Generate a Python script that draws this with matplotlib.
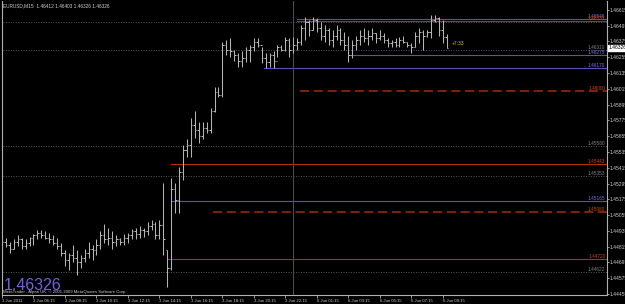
import matplotlib
matplotlib.use("Agg")
import matplotlib.pyplot as plt
from matplotlib.transforms import blended_transform_factory

# header / texts
header_text = "EURUSD,M15  1.46412 1.46403 1.46326 1.46326"
big_price = "1.46326"
copyright_text = "MetaTrader - Alpari UK, \u00a9 2001-2009 MetaQuotes Software Corp."
timer_text = "+7:33"

# time axis labels (every 8 bars)
time_labels = ["3 Jun 2011", "3 Jun 06:15", "3 Jun 08:15", "3 Jun 10:15", "3 Jun 12:15",
               "3 Jun 14:15", "3 Jun 16:15", "3 Jun 18:15", "3 Jun 20:15", "3 Jun 22:15",
               "6 Jun 01:15", "6 Jun 03:15", "6 Jun 05:15", "6 Jun 07:15", "6 Jun 09:15"]
time_label_bars = [0, 8, 16, 24, 32, 40, 48, 56, 64, 72, 80, 88, 96, 104, 112]

price_ticks = [1.46615, 1.46495, 1.46375, 1.46255, 1.46135, 1.46015, 1.45895, 1.45775,
               1.45655, 1.45535, 1.45415, 1.45295, 1.45175, 1.45055, 1.44935, 1.44815,
               1.44695, 1.44575, 1.44455]

# M15 bars
bar_high = [1.4487, 1.4488, 1.4485, 1.4487, 1.4490, 1.4488, 1.4487, 1.4489, 1.4491, 1.4494,
            1.4494, 1.4493, 1.4492, 1.4490, 1.4488, 1.4484, 1.4479, 1.4477, 1.4483, 1.4479,
            1.4475, 1.4480, 1.4485, 1.4483, 1.4487, 1.4493, 1.4499, 1.4496, 1.4493, 1.4490,
            1.4488, 1.4491, 1.4492, 1.4495, 1.4496, 1.4497, 1.4496, 1.4500, 1.4502, 1.4500,
            1.4502, 1.4530, 1.4479, 1.4534, 1.4530, 1.4542, 1.4559, 1.4563, 1.4579, 1.4585,
            1.4576, 1.4576, 1.4576, 1.4587, 1.4603, 1.4603, 1.4637, 1.4639, 1.4640, 1.4631,
            1.4629, 1.4630, 1.4633, 1.4635, 1.4640, 1.4640, 1.4633, 1.4629, 1.4629, 1.4630,
            1.4635, 1.4635, 1.4641, 1.4640, 1.4641, 1.4640, 1.4650, 1.4656, 1.4654, 1.4656,
            1.4655, 1.4652, 1.4650, 1.4648, 1.4646, 1.4650, 1.4648, 1.4645, 1.4642, 1.4639,
            1.4642, 1.4646, 1.4648, 1.4646, 1.4648, 1.4644, 1.4646, 1.4644, 1.4640, 1.4639,
            1.4640, 1.4641, 1.4642, 1.4637, 1.4636, 1.4645, 1.4648, 1.4646, 1.4646, 1.4658,
            1.4658, 1.4656, 1.4654, 1.4643]
bar_low = [1.4479, 1.4481, 1.4477, 1.4480, 1.4482, 1.4480, 1.4480, 1.4482, 1.4483, 1.4487,
           1.4488, 1.4487, 1.4484, 1.4483, 1.4480, 1.4474, 1.4467, 1.4464, 1.4470, 1.4460,
           1.4465, 1.4470, 1.4473, 1.4471, 1.4475, 1.4480, 1.4484, 1.4483, 1.4480, 1.4482,
           1.4483, 1.4483, 1.4484, 1.4487, 1.4487, 1.4488, 1.4489, 1.4490, 1.4494, 1.4487,
           1.4487, 1.4475, 1.4451, 1.4464, 1.4507, 1.4507, 1.4532, 1.4550, 1.4550, 1.4564,
           1.4560, 1.4563, 1.4568, 1.4568, 1.4584, 1.4595, 1.4595, 1.4627, 1.4626, 1.4623,
           1.4618, 1.4618, 1.4622, 1.4622, 1.4630, 1.4633, 1.4621, 1.4617, 1.4618, 1.4617,
           1.4626, 1.4630, 1.4630, 1.4626, 1.4629, 1.4631, 1.4635, 1.4639, 1.4642, 1.4646,
           1.4645, 1.4639, 1.4637, 1.4635, 1.4633, 1.4639, 1.4635, 1.4631, 1.4622, 1.4625,
           1.4631, 1.4635, 1.4637, 1.4635, 1.4639, 1.4636, 1.4639, 1.4636, 1.4633, 1.4633,
           1.4633, 1.4633, 1.4636, 1.4633, 1.4629, 1.4633, 1.4636, 1.4631, 1.4641, 1.4640,
           1.4652, 1.4642, 1.4636, 1.46326]
bar_open = [1.4483, 1.4485, 1.4483, 1.4480, 1.4485, 1.4487, 1.4482, 1.4484, 1.4488, 1.4490,
            1.4492, 1.4490, 1.4488, 1.4487, 1.4484, 1.4482, 1.4477, 1.4471, 1.4475, 1.4473,
            1.4470, 1.4473, 1.4477, 1.4480, 1.4479, 1.4483, 1.4490, 1.4487, 1.4488, 1.4485,
            1.4487, 1.4485, 1.4488, 1.4490, 1.4493, 1.4491, 1.4494, 1.4493, 1.4497, 1.4499,
            1.4490, 1.4498, 1.4479, 1.4465, 1.4525, 1.4517, 1.4538, 1.4555, 1.4559, 1.4574,
            1.4570, 1.4566, 1.4572, 1.4570, 1.4585, 1.4599, 1.4597, 1.4635, 1.4631, 1.4630,
            1.4627, 1.4623, 1.4625, 1.4631, 1.4633, 1.4637, 1.4635, 1.4625, 1.4622, 1.4627,
            1.4623, 1.4633, 1.4631, 1.4639, 1.4631, 1.4635, 1.4637, 1.4648, 1.4652, 1.4646,
            1.4654, 1.4648, 1.4642, 1.4646, 1.4639, 1.4642, 1.4646, 1.4639, 1.4635, 1.4627,
            1.4635, 1.4639, 1.4642, 1.4640, 1.4642, 1.4644, 1.4640, 1.4642, 1.4639, 1.4636,
            1.4637, 1.4635, 1.4639, 1.4637, 1.4635, 1.4633, 1.4642, 1.4645, 1.4642, 1.4645,
            1.4654, 1.4655, 1.4646, 1.46412]
bar_close = [1.4485, 1.4483, 1.4480, 1.4485, 1.4487, 1.4482, 1.4484, 1.4488, 1.4490, 1.4492,
             1.4490, 1.4488, 1.4487, 1.4484, 1.4482, 1.4477, 1.4471, 1.4475, 1.4473, 1.4470,
             1.4473, 1.4477, 1.4480, 1.4479, 1.4483, 1.4490, 1.4487, 1.4488, 1.4485, 1.4487,
             1.4485, 1.4488, 1.4490, 1.4493, 1.4491, 1.4494, 1.4493, 1.4497, 1.4499, 1.4490,
             1.4498, 1.4487, 1.4465, 1.4525, 1.4517, 1.4538, 1.4555, 1.4559, 1.4574, 1.4570,
             1.4566, 1.4572, 1.4570, 1.4585, 1.4599, 1.4597, 1.4635, 1.4631, 1.4630, 1.4627,
             1.4623, 1.4625, 1.4631, 1.4633, 1.4637, 1.4635, 1.4625, 1.4622, 1.4627, 1.4623,
             1.4633, 1.4631, 1.4639, 1.4631, 1.4635, 1.4637, 1.4648, 1.4652, 1.4646, 1.4654,
             1.4648, 1.4642, 1.4646, 1.4639, 1.4642, 1.4646, 1.4639, 1.4635, 1.4627, 1.4635,
             1.4639, 1.4642, 1.4640, 1.4642, 1.4644, 1.4640, 1.4642, 1.4639, 1.4636, 1.4637,
             1.4635, 1.4639, 1.4637, 1.4635, 1.4633, 1.4642, 1.4645, 1.4642, 1.4645, 1.4654,
             1.4655, 1.4646, 1.4641, 1.46326]

# horizontal line objects: price, first bar, colour, style, label (None = no label)
level_price = [1.46546, 1.46531, 1.46526, 1.46310, 1.46273, 1.46174, 1.46000, 1.45580,
               1.45443, 1.45352, 1.45161, 1.45078, 1.44720, 1.44621]
level_start = [75, 75, -1, -1, 88.5, 66.6, 75.8, -1, 43, -1, 43, 53.7, 42, -1]
level_kind = ["blue", "red", "dot", "dot", "blue", "blue", "dash", "dot",
              "red", "dot", "blue", "dash", "red", "dot"]
level_label = ["1.46546", "1.46531", None, "1.46310", "1.46275", "1.46170", "1.46000",
               "1.45580", "1.45443", "1.45353", "1.45165", "1.45080", "1.44720", "1.44622"]

separator_bar = 73.9

styles = {
    "red": dict(color="#b83000", ls="-", lw=0.8),
    "blue": dict(color="#5a50b8", ls="-", lw=0.8),
    "dash": dict(color="#a02c08", ls=(0, (6, 3)), lw=1.1),
    "dot": dict(color="#606060", ls=(0, (1.2, 1.8)), lw=0.6),
}
label_colors = {"red": "#d04010", "blue": "#7a70e0", "dash": "#d04010", "dot": "#808080"}

W, H = 625, 304
fig = plt.figure(figsize=(W / 100, H / 100), dpi=100, facecolor="black")
ax = fig.add_axes([2 / W, (H - 295) / H, (606.5 - 2) / W, 294 / H])
ax.set_facecolor("black")

x_left, x_right = 0.13, 153.6
ax.set_xlim(x_left, x_right)
ax.set_ylim(1.44447, 1.46683)

# level lines
for p, s, k, lab in zip(level_price, level_start, level_kind, level_label):
    start = x_left if s < 0 else s
    ax.plot([start, x_right], [p, p], zorder=1, **styles[k])
    if lab:
        ax.text(x_right - 0.3, p, lab, color=label_colors[k], fontsize=3.4,
                family="Liberation Sans", ha="right", va="bottom", zorder=3)

ax.axvline(separator_bar, color="#505050", lw=0.7, zorder=1)

# OHLC bars
idx = list(range(len(bar_high)))
bar_col = "#b4b4b4"
ax.vlines(idx, bar_low, bar_high, colors=bar_col, lw=0.75, zorder=2)
ax.hlines(bar_open, [i - 0.38 for i in idx], idx, colors=bar_col, lw=0.75, zorder=2)
ax.hlines(bar_close, idx, [i + 0.38 for i in idx], colors=bar_col, lw=0.75, zorder=2)

# timer text next to last bar
ax.text(114.3, 1.46356, timer_text, color="#c8c800", fontsize=3.6,
        family="Liberation Sans", ha="left", va="center")

# axes look
ax.spines["top"].set_visible(False)
for side in ["left", "right", "bottom"]:
    ax.spines[side].set_color("#b0b0b0")
    ax.spines[side].set_linewidth(0.8)

ax.yaxis.tick_right()
ax.set_yticks(price_ticks)
ax.set_yticklabels(["%.5f" % v for v in price_ticks])
ax.tick_params(axis="y", colors="#b0b0b0", labelcolor="#c8c8c8", labelsize=3.6,
               length=1.5, width=0.6, pad=1)
ax.set_xticks(time_label_bars)
ax.set_xticklabels(time_labels, ha="left")
ax.tick_params(axis="x", colors="#b0b0b0", labelcolor="#c8c8c8", labelsize=3.1,
               length=2, width=0.6, pad=0.6)
for t in ax.get_xticklabels() + ax.get_yticklabels():
    t.set_family("Liberation Sans")

# current price marker on the price scale
tr = blended_transform_factory(ax.transAxes, ax.transData)
ax.text(1.003, 1.46326, big_price, transform=tr, fontsize=3.6, family="Liberation Sans",
        color="black", ha="left", va="center",
        bbox=dict(boxstyle="square,pad=0.15", fc="white", ec="white"), clip_on=False)

# texts on the chart
fig.text(3 / W, 1 - 6 / H, header_text, color="#d0d0d0", fontsize=3.4,
         family="Liberation Sans", ha="left", va="center")
fig.text(4 / W, 1 - 289.5 / H, big_price, color="#7060e8", fontsize=11.5,
         family="Liberation Sans", ha="left", va="baseline")
fig.text(3 / W, 1 - 292.5 / H, copyright_text, color="#c8c8c8", fontsize=3.1,
         family="Liberation Sans", ha="left", va="center")

fig.savefig("out.png", dpi=100, facecolor="black")
